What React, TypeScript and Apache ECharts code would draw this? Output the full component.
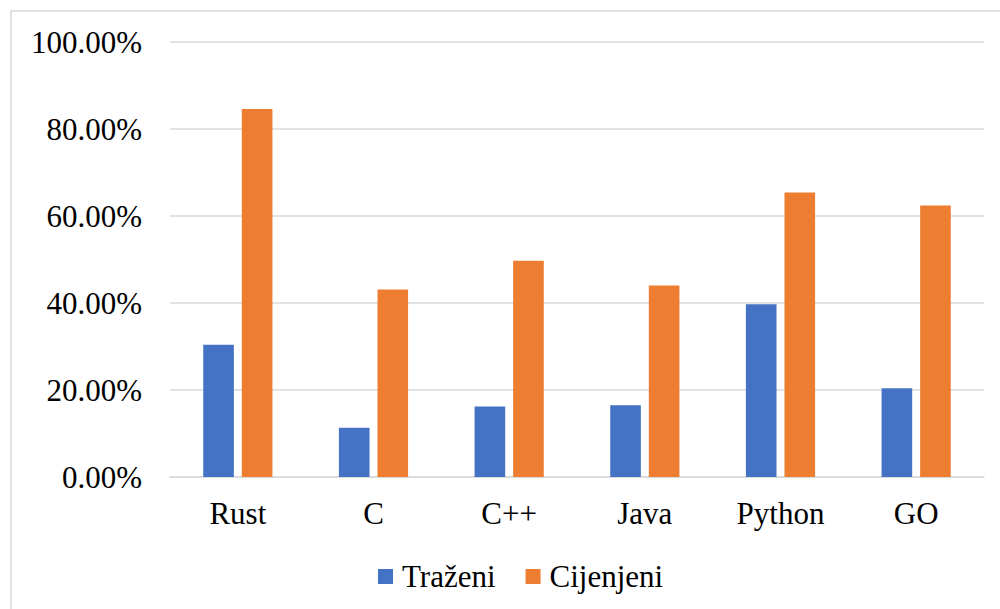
import React, { useEffect, useRef } from "react";
import * as echarts from "echarts";

const categories = ["Rust", "C", "C++", "Java", "Python", "GO"];
const trazeni = [30.4, 11.3, 16.2, 16.5, 39.7, 20.4];
const cijenjeni = [84.6, 43.1, 49.7, 44.0, 65.4, 62.4];
const seriesNames = ["Traženi", "Cijenjeni"];

const FONT = '"Liberation Serif", "Times New Roman", serif';

export default function App() {
  const ref = useRef<HTMLDivElement>(null);
  useEffect(() => {
    if (!ref.current) return;
    const chart = echarts.init(ref.current, undefined, { renderer: "svg" });
    chart.setOption({
      animation: false,
      backgroundColor: "#ffffff",
      textStyle: { fontFamily: FONT },
      graphic: [
        {
          type: "rect",
          shape: { x: 11, y: 11, width: 1100, height: 800 },
          style: { fill: "none", stroke: "#d9d9d9", lineWidth: 1.5 },
          silent: true,
        },
      ],
      legend: {
        data: seriesNames,
        left: 373,
        top: 556,
        itemWidth: 15,
        itemHeight: 15,
        itemGap: 30,
        icon: "rect",
        textStyle: { fontFamily: FONT, fontSize: 31, color: "#000", padding: [0, 0, 0, 4] },
      },
      grid: { left: 170, right: 16, top: 42, bottom: 132, containLabel: false },
      xAxis: {
        type: "category",
        data: categories,
        axisTick: { show: false },
        axisLine: { show: true, lineStyle: { color: "#d9d9d9", width: 1.5 } },
        axisLabel: { fontFamily: FONT, fontSize: 31, color: "#000", margin: 21 },
      },
      yAxis: {
        type: "value",
        min: 0,
        max: 100,
        interval: 20,
        axisLine: { show: false },
        axisTick: { show: false },
        splitLine: { lineStyle: { color: "#d9d9d9", width: 1.5 } },
        axisLabel: {
          fontFamily: FONT,
          fontSize: 31,
          color: "#000",
          margin: 28,
          formatter: (v: number) => v.toFixed(2) + "%",
        },
      },
      series: [
        {
          name: seriesNames[0],
          type: "bar",
          data: trazeni,
          itemStyle: { color: "#4472C4" },
          barGap: "26%",
          barCategoryGap: "49%",
        },
        {
          name: seriesNames[1],
          type: "bar",
          data: cijenjeni,
          itemStyle: { color: "#ED7D31" },
          barGap: "26%",
          barCategoryGap: "49%",
        },
      ],
    });
    return () => chart.dispose();
  }, []);
  return (
    <div
      ref={ref}
      style={{ position: "fixed", left: 0, top: 0, width: 1000, height: 609 }}
    />
  );
}
